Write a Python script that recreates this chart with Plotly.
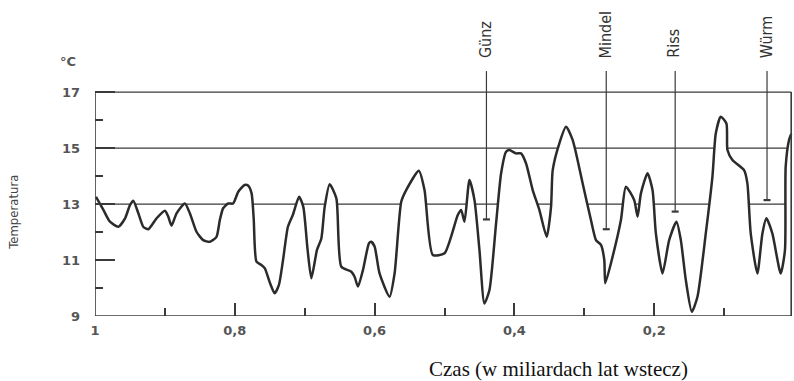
import plotly.graph_objects as go

# Time before present (billions of years) and temperature (deg C)
age = [0.9986, 0.988, 0.9786, 0.9667, 0.957, 0.95, 0.9452, 0.938, 0.931, 0.9238,
       0.9119, 0.9, 0.8952, 0.8905, 0.8833, 0.8714, 0.8643, 0.8548, 0.8452, 0.8357,
       0.8262, 0.8214, 0.8167, 0.8095, 0.8024, 0.795, 0.786, 0.781, 0.776, 0.773,
       0.769, 0.762, 0.757, 0.750, 0.743, 0.737, 0.731, 0.724, 0.717, 0.708,
       0.702, 0.696, 0.6905, 0.6824, 0.6762, 0.6714, 0.6643, 0.6547, 0.6476, 0.6333,
       0.6286, 0.6238, 0.6167, 0.608, 0.6048, 0.600, 0.5929, 0.5786, 0.5714, 0.5619,
       0.5548, 0.5367, 0.5286, 0.5167, 0.500, 0.481, 0.4762, 0.4714, 0.4643, 0.4571,
       0.450, 0.4429, 0.4357, 0.4262, 0.419, 0.4119, 0.4071, 0.3976, 0.3905, 0.3833,
       0.3738, 0.3643, 0.3538, 0.3476, 0.3452, 0.3357, 0.3262, 0.3167, 0.3024, 0.2905,
       0.2833, 0.2762, 0.2714, 0.2700, 0.2595, 0.2476, 0.2405, 0.2286, 0.2238, 0.219,
       0.2095, 0.2024, 0.1976, 0.1881, 0.1786, 0.1681, 0.1619, 0.1548, 0.1462, 0.1381,
       0.1262, 0.1167, 0.1119, 0.1048, 0.0967, 0.0952, 0.0881, 0.0714, 0.0667, 0.0619,
       0.0524, 0.0452, 0.0395, 0.031, 0.019, 0.0129, 0.0119, 0.0071, 0.004]
temp = [13.26, 12.79, 12.37, 12.19, 12.49, 12.96, 13.12, 12.67, 12.19, 12.10,
        12.49, 12.76, 12.55, 12.23, 12.67, 13.02, 12.67, 12.01, 11.71, 11.65,
        11.83, 12.43, 12.85, 13.02, 13.02, 13.44, 13.68, 13.66, 13.38, 12.50,
        10.94, 10.82, 10.70, 10.20, 9.81, 10.10, 11.00, 12.19, 12.61, 13.26,
        12.90, 11.40, 10.35, 11.36, 11.77, 12.90, 13.71, 13.20, 10.76, 10.58,
        10.40, 10.05, 10.64, 11.60, 11.65, 11.48, 10.52, 9.69, 10.52, 13.08,
        13.50, 14.19, 13.50, 11.18, 11.24, 12.61, 12.79, 12.37, 13.86, 13.14,
        11.36, 9.45, 9.93, 12.31, 14.10, 14.87, 14.93, 14.81, 14.81, 14.45,
        13.50, 12.79, 11.83, 12.90, 14.21, 15.17, 15.76, 15.29, 13.74, 12.43,
        11.71, 11.54, 11.00, 10.17, 11.12, 12.43, 13.62, 13.14, 12.55, 13.38,
        14.10, 13.50, 11.95, 10.52, 11.71, 12.37, 11.71, 10.29, 9.15, 9.69,
        11.95, 13.98, 15.52, 16.12, 15.88, 14.93, 14.57, 14.21, 13.74, 11.95,
        10.52, 11.95, 12.49, 11.95, 10.52, 11.36, 14.33, 15.29, 15.50]

# Glaciations marked above the curve
glaciations = ["Günz", "Mindel", "Riss", "Würm"]
glaciation_age = [0.44, 0.2686, 0.17, 0.0386]
marker_low = [12.45, 12.10, 12.73, 13.14]
marker_high = 17.75
label_base = 18.14

# Axis ticks
x_ticks = [1, 0.8, 0.6, 0.4, 0.2, 0]
x_tick_text = ["1", "0,8", "0,6", "0,4", "0,2", "0"]
x_minor = [0.9, 0.7, 0.5, 0.3, 0.1]
y_ticks = [9, 11, 13, 15, 17]
y_minor = [10, 12, 14, 16]
ref_levels = [13, 15, 17]

X_LEFT, X_RIGHT = 1.0, 0.004
Y_LOW, Y_HIGH = 9, 17

INK = "#2b2b2b"
NARROW = "Liberation Sans Narrow, DejaVu Sans Condensed, sans-serif"
LABEL_FONT = dict(family="DejaVu Sans", size=13, color="#555555", weight="bold")

fig = go.Figure()

# Reference levels (hidden by the white area under the curve where it rises above them)
ref_x, ref_y = [], []
for lv in ref_levels:
    ref_x += [X_LEFT, X_RIGHT, None]
    ref_y += [lv, lv, None]
fig.add_trace(go.Scatter(x=ref_x, y=ref_y, mode="lines",
                         line=dict(color="#3a3a3a", width=1.3),
                         hoverinfo="skip", showlegend=False))

# Temperature curve
fig.add_trace(go.Scatter(x=age, y=temp, mode="lines", fill="tozeroy",
                         fillcolor="white",
                         line=dict(color=INK, width=2.5, shape="spline", smoothing=0.6),
                         showlegend=False))

# Glaciation marker lines
for gx, lo in zip(glaciation_age, marker_low):
    fig.add_trace(go.Scatter(x=[gx, gx], y=[lo, marker_high], mode="lines",
                             line=dict(color="#3a3a3a", width=1.2),
                             hoverinfo="skip", showlegend=False))
fig.add_trace(go.Scatter(x=glaciation_age, y=marker_low, mode="markers",
                         marker=dict(symbol="line-ew", size=5,
                                     line=dict(color="#3a3a3a", width=2.2)),
                         hoverinfo="skip", showlegend=False))

# Glaciation names, vertical
for name, gx in zip(glaciations, glaciation_age):
    fig.add_annotation(x=gx, y=label_base, xref="x", yref="y", text=name,
                       textangle=-90, showarrow=False, xanchor="center",
                       yanchor="bottom", xshift=-1,
                       font=dict(family=NARROW, size=16, color="#333333"))

# Frame: left axis, bottom axis, right edge
for x0, y0, x1, y1 in [(X_LEFT, Y_LOW, X_LEFT, Y_HIGH),
                       (X_LEFT, Y_LOW, X_RIGHT, Y_LOW),
                       (X_RIGHT, Y_LOW, X_RIGHT, Y_HIGH)]:
    fig.add_shape(type="line", x0=x0, y0=y0, x1=x1, y1=y1, xref="x", yref="y",
                  line=dict(color="#3a3a3a", width=1.6))

# Unit and axis names
fig.add_annotation(x=0, y=18.1, xref="paper", yref="y", text="°C", showarrow=False,
                   xanchor="right", xshift=-17, font=LABEL_FONT)
fig.add_annotation(x=0, y=12.71, xref="paper", yref="y", text="Temperatura",
                   showarrow=False, textangle=-90, xanchor="right", xshift=-72,
                   font=dict(family=NARROW, size=13, color="#444444"))
fig.add_annotation(x=0.337, y=0, xref="x", yref="paper",
                   text="Czas (w miliardach lat wstecz)", showarrow=False,
                   xanchor="center", yanchor="middle", yshift=-53,
                   font=dict(family="Liberation Serif, serif", size=21, color="#111111"))

fig.update_xaxes(range=[1, 0], tickvals=x_ticks, ticktext=x_tick_text,
                 ticks="inside", ticklen=13, tickwidth=1.5, tickcolor="#3a3a3a",
                 minor=dict(tickvals=x_minor, ticks="inside", ticklen=8,
                            tickwidth=1.5, tickcolor="#3a3a3a"),
                 showgrid=False, zeroline=False, showline=False,
                 ticklabelstandoff=5, tickfont=LABEL_FONT)
fig.update_yaxes(range=[9, 20.29], tickvals=y_ticks,
                 ticks="inside", ticklen=20, tickwidth=1.5, tickcolor="#3a3a3a",
                 minor=dict(tickvals=y_minor, ticks="inside", ticklen=8,
                            tickwidth=1.5, tickcolor="#3a3a3a"),
                 showgrid=False, zeroline=False, showline=False,
                 ticklabelstandoff=14, tickfont=LABEL_FONT)

fig.update_layout(width=794, height=381, margin=dict(l=95, r=0, t=0, b=65),
                  plot_bgcolor="white", paper_bgcolor="white", showlegend=False)

fig.write_html("out.html")
